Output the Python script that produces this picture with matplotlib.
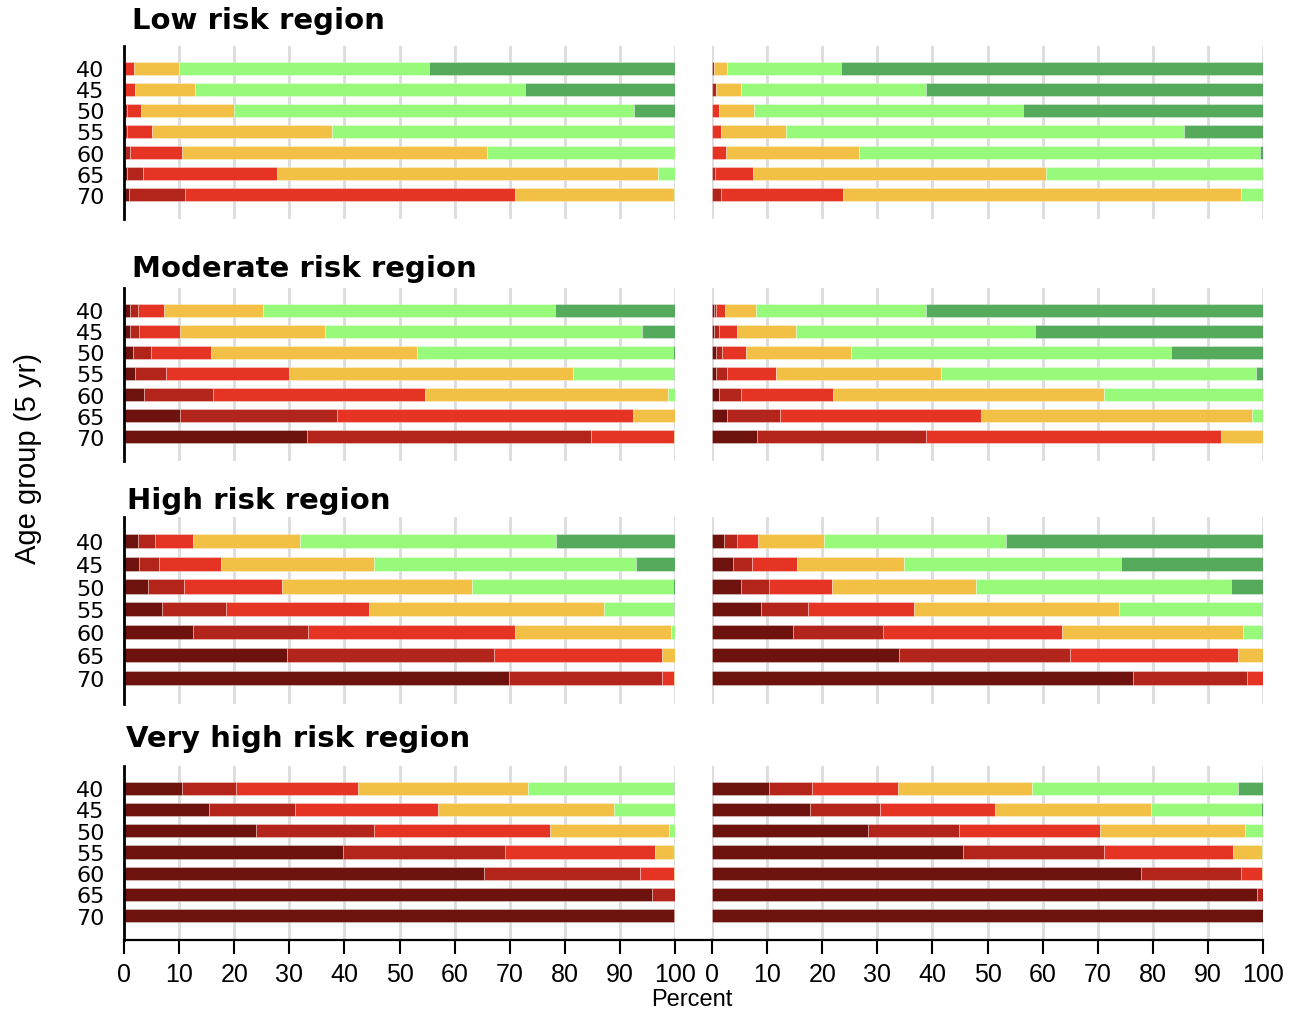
import numpy as np
import matplotlib
matplotlib.use("Agg")
import matplotlib.pyplot as plt
from matplotlib.lines import Line2D

# age groups, top to bottom
ages = ["40", "45", "50", "55", "60", "65", "70"]
x_ticks = [0, 10, 20, 30, 40, 50, 60, 70, 80, 90, 100]

# risk categories, left to right in each bar
colors = ["#6e120d", "#b3241a", "#e53424", "#f2c044", "#98fa7a", "#55ab5b"]

# percent per category, one row per age group
low_left = [[0, 0, 1.8, 8.1, 45.4, 44.7],
            [0, 0, 2.0, 10.8, 60.0, 27.2],
            [0, 0.5, 2.6, 16.9, 72.6, 7.4],
            [0, 0.5, 4.6, 32.7, 62.0, 0.2],
            [0.2, 0.8, 9.5, 55.4, 34.1, 0],
            [0.5, 2.9, 24.4, 69.1, 3.1, 0],
            [0.9, 10.2, 59.8, 29.0, 0.1, 0]]
low_right = [[0, 0.3, 0, 2.5, 20.6, 76.6],
             [0, 0.7, 0, 4.5, 33.7, 61.1],
             [0, 0, 1.2, 6.5, 48.7, 43.6],
             [0, 0, 1.7, 11.8, 72.1, 14.4],
             [0, 0, 2.5, 24.1, 72.8, 0.6],
             [0, 0.5, 7.0, 53.1, 39.4, 0],
             [0, 1.7, 22.1, 72.2, 4.0, 0]]
moderate_left = [[1.1, 1.5, 4.6, 18.1, 53.0, 21.7],
                 [1.0, 1.8, 7.3, 26.3, 57.6, 6.0],
                 [1.7, 3.2, 10.9, 37.3, 46.6, 0.3],
                 [2.0, 5.6, 22.3, 51.6, 18.4, 0.1],
                 [3.7, 12.5, 38.5, 44.0, 1.3, 0],
                 [10.1, 28.6, 53.7, 7.6, 0, 0],
                 [33.2, 51.5, 15.2, 0.1, 0, 0]]
moderate_right = [[0.4, 0.4, 1.5, 5.6, 30.9, 61.2],
                  [0.4, 0.8, 3.4, 10.6, 43.5, 41.3],
                  [0.7, 1.1, 4.4, 19.0, 58.1, 16.7],
                  [0.8, 1.9, 8.9, 29.9, 57.2, 1.3],
                  [1.3, 3.9, 16.7, 49.2, 28.9, 0],
                  [2.8, 9.5, 36.6, 49.1, 2.0, 0],
                  [8.1, 30.8, 53.4, 7.7, 0, 0]]
high_left = [[2.5, 3.1, 7.0, 19.4, 46.4, 21.6],
             [2.8, 3.5, 11.3, 27.8, 47.6, 7.0],
             [4.4, 6.5, 17.7, 34.5, 36.5, 0.4],
             [6.9, 11.6, 25.9, 42.7, 12.8, 0.1],
             [12.6, 20.8, 37.5, 28.4, 0.7, 0],
             [29.5, 37.6, 30.5, 2.4, 0, 0],
             [69.8, 27.8, 2.3, 0.1, 0, 0]]
high_right = [[2.2, 2.4, 3.8, 11.9, 33.1, 46.6],
              [3.8, 3.4, 8.2, 19.5, 39.4, 25.7],
              [5.2, 5.1, 11.5, 26.1, 46.3, 5.8],
              [8.9, 8.6, 19.1, 37.3, 26.0, 0.1],
              [14.7, 16.3, 32.6, 32.8, 3.4, 0.2],
              [34.0, 30.9, 30.5, 4.6, 0, 0],
              [76.4, 20.7, 2.9, 0, 0, 0]]
veryhigh_left = [[10.5, 9.8, 22.2, 30.8, 26.5, 0.2],
                 [15.4, 15.7, 25.8, 32.1, 11.0, 0],
                 [23.9, 21.5, 31.9, 21.6, 1.1, 0],
                 [39.8, 29.4, 27.2, 3.5, 0.1, 0],
                 [65.4, 28.3, 6.2, 0.1, 0, 0],
                 [95.9, 4.1, 0, 0, 0, 0],
                 [99.9, 0.1, 0, 0, 0, 0]]
veryhigh_right = [[10.4, 7.7, 15.6, 24.4, 37.4, 4.5],
                  [17.7, 12.8, 20.8, 28.4, 20.0, 0.3],
                  [28.3, 16.6, 25.6, 26.3, 3.2, 0],
                  [45.6, 25.5, 23.5, 5.3, 0.1, 0],
                  [77.9, 18.1, 3.9, 0.1, 0, 0],
                  [98.9, 1.1, 0, 0, 0, 0],
                  [100.0, 0, 0, 0, 0, 0]]

titles = ["Low risk region", "Moderate risk region", "High risk region", "Very high risk region"]
panels = [(low_left, low_right), (moderate_left, moderate_right),
          (high_left, high_right), (veryhigh_left, veryhigh_right)]

W, H = 1298, 1012
fig = plt.figure(figsize=(W / 100, H / 100), dpi=100)

# pixel layout of each row: (top, bottom) and title (x, y)
row_px = [(47, 220), (289, 462), (518, 705), (767, 941)]
title_px = [(132, 21), (132, 269), (127, 501), (126, 739)]
col_px = [(124, 675), (712, 1263)]


def fx(x):
    return x / W


def fy(y):
    return 1 - y / H


for r in range(4):
    top, bot = row_px[r]
    for c in range(2):
        x0, x1 = col_px[c]
        ax = fig.add_axes([fx(x0), fy(bot), (x1 - x0) / W, (bot - top) / H])
        data = np.array(panels[r][c])
        y = np.arange(len(ages))
        left = np.zeros(len(ages))
        for k in range(data.shape[1]):
            ax.barh(y, data[:, k], left=left, height=0.62, color=colors[k],
                    edgecolor=(1, 1, 1, 0.45), linewidth=0.5, zorder=2)
            left += data[:, k]
        ax.set_xlim(0, 100)
        ax.set_ylim(7.15, -1.05)
        ax.set_xticks(x_ticks)
        ax.grid(axis="x", color="#dcdcdc", linewidth=2, zorder=0)
        ax.set_axisbelow(True)
        for s in ["top", "right"]:
            ax.spines[s].set_visible(False)
        if c == 0:
            ax.spines["left"].set_linewidth(2)
            ax.spines["left"].set_color("black")
            ax.set_yticks(y)
            ax.set_yticklabels(ages, fontsize=16, family="DejaVu Sans")
            ax.tick_params(axis="y", length=0, pad=14)
        else:
            ax.spines["left"].set_visible(False)
            ax.set_yticks([])
        if r == 3:
            ax.spines["bottom"].set_linewidth(1.6)
            ax.set_xticklabels([str(v) for v in x_ticks], fontsize=18, family="Liberation Sans")
            ax.tick_params(axis="x", length=10, width=1.5, pad=6)
        else:
            ax.spines["bottom"].set_visible(False)
            ax.tick_params(axis="x", length=0, labelbottom=False)

    tx, ty = title_px[r]
    fig.text(fx(tx), fy(ty), titles[r], fontsize=21, fontweight="bold",
             family="DejaVu Sans", ha="left", va="center")

# bottom axis line bridging the gap between columns
fig.add_artist(Line2D([fx(675), fx(712)], [fy(941), fy(941)], color="black", linewidth=1.6))

fig.text(fx(28), fy(459), "Age group (5 yr)", rotation=90, fontsize=21,
         family="Liberation Sans", ha="center", va="center")
fig.text(fx(692), fy(1011), "Percent", fontsize=17, family="Liberation Sans",
         ha="center", va="bottom")

fig.savefig("out.png", dpi=100)
